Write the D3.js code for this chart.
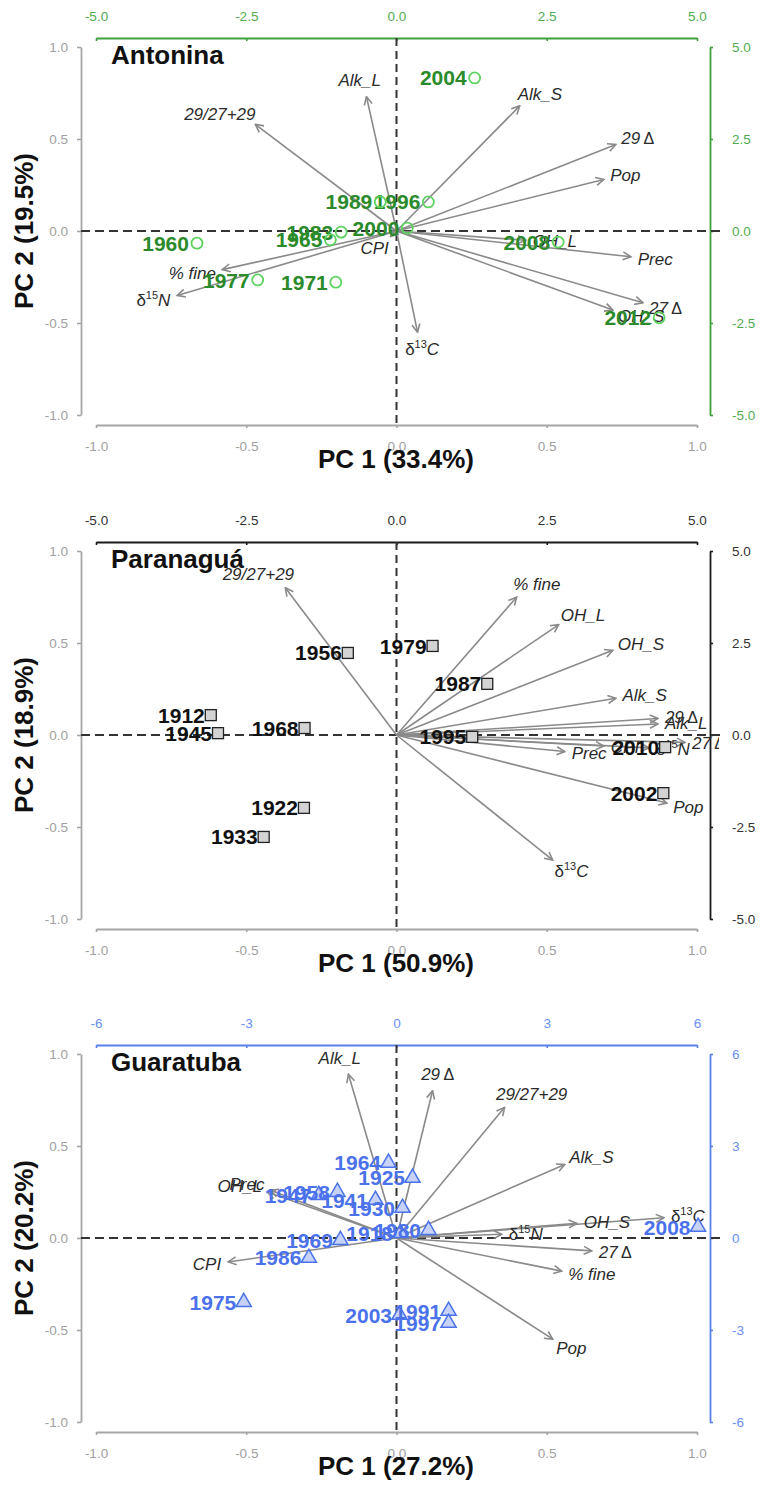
<!DOCTYPE html>
<html>
<head>
<meta charset="utf-8">
<script src="https://cdn.jsdelivr.net/npm/d3@7"></script>
<style>
  body { margin: 0; background: #fff; }
  svg text { font-family: "Liberation Sans", Arial, Helvetica, sans-serif; }
</style>
</head>
<body>
<div id="chart"></div>
<script>
// ---- Antonina ----
const antYears = ["2004", "1996", "1989", "2000", "1983", "1965", "1960", "1977", "1971", "2008", "2012"];
const antScore1 = [1.30, 0.53, -0.27, 0.18, -0.92, -1.10, -3.32, -2.31, -1.01, 2.69, 4.37];
const antScore2 = [4.16, 0.79, 0.79, 0.08, -0.03, -0.24, -0.33, -1.33, -1.39, -0.30, -2.36];
const antVars = ["Alk_L", "29/27+29", "Alk_S", "29Δ", "Pop", "OH_L", "Prec", "27Δ", "OH_S", "δ13C", "δ15N", "% fine", "CPI"];
const antLoad1 = [-0.10, -0.47, 0.41, 0.73, 0.69, 0.43, 0.78, 0.82, 0.72, 0.07, -0.73, -0.58, -0.02];
const antLoad2 = [0.73, 0.58, 0.68, 0.47, 0.28, -0.05, -0.14, -0.39, -0.43, -0.55, -0.35, -0.21, -0.03];

// ---- Paranaguá ----
const parYears = ["1956", "1979", "1987", "1912", "1945", "1968", "1995", "2010", "2002", "1922", "1933"];
const parScore1 = [-0.81, 0.60, 1.51, -3.09, -2.97, -1.53, 1.26, 4.47, 4.44, -1.54, -2.21];
const parScore2 = [2.23, 2.42, 1.39, 0.54, 0.05, 0.19, -0.05, -0.33, -1.58, -1.98, -2.77];
const parVars = ["29/27+29", "% fine", "OH_L", "OH_S", "Alk_S", "29Δ", "Alk_L", "Prec", "CPI", "δ15N", "27Δ", "Pop", "δ13C"];
const parLoad1 = [-0.37, 0.40, 0.54, 0.72, 0.73, 0.87, 0.87, 0.56, 0.69, 0.84, 0.96, 0.90, 0.52];
const parLoad2 = [0.80, 0.75, 0.60, 0.46, 0.20, 0.09, 0.06, -0.09, -0.06, -0.07, -0.04, -0.37, -0.68];

// ---- Guaratuba ----
const guaYears = ["1964", "1925", "1947", "1958", "1941", "1930", "1918", "1980", "1969", "1986", "1975", "2003", "1991", "1997", "2008"];
const guaScore1 = [-0.16, 0.32, -1.55, -1.18, -0.42, 0.12, 0.08, 0.64, -1.12, -1.75, -3.05, 0.06, 1.04, 1.04, 6.02];
const guaScore2 = [2.45, 1.96, 1.40, 1.50, 1.24, 0.98, 0.16, 0.26, -0.07, -0.65, -2.09, -2.51, -2.38, -2.77, 0.36];
const guaVars = ["Alk_L", "29Δ", "29/27+29", "Alk_S", "OH_S", "δ13C", "δ15N", "27Δ", "% fine", "Pop", "CPI", "Prec", "OH_L"];
const guaLoad1 = [-0.16, 0.12, 0.36, 0.56, 0.60, 0.89, 0.35, 0.65, 0.55, 0.52, -0.56, -0.42, -0.43];
const guaLoad2 = [0.89, 0.80, 0.71, 0.40, 0.08, 0.11, 0.02, -0.07, -0.18, -0.55, -0.13, 0.26, 0.25];

// ---- axis ticks ----
const pcTicks = [-1, -0.5, 0, 0.5, 1];
const scoreTicks5 = [-5, -2.5, 0, 2.5, 5];
const scoreTicks6 = [-6, -3, 0, 3, 6];

const width = 760, height = 1489;
const svg = d3.select("#chart").append("svg")
    .attr("width", width)
    .attr("height", height);

const defs = svg.append("defs");
defs.append("marker")
    .attr("id", "head")
    .attr("viewBox", "0 0 10 10")
    .attr("refX", 9).attr("refY", 5)
    .attr("markerWidth", 10).attr("markerHeight", 10)
    .attr("markerUnits", "userSpaceOnUse")
    .attr("orient", "auto")
  .append("path")
    .attr("d", "M1,1 L9,5 L1,9")
    .attr("fill", "none")
    .attr("stroke", "#8a8a8a")
    .attr("stroke-width", 1.6);
defs.append("clipPath").attr("id", "clipR")
  .append("rect").attr("x", 0).attr("y", 0).attr("width", 719).attr("height", height);

const panels = [
  { name: "Antonina", y0: 231, pc1: "PC 1 (33.4%)", pc2: "PC 2 (19.5%)",
    years: antYears, s1: antScore1, s2: antScore2, vars: antVars, l1: antLoad1, l2: antLoad2,
    max: 5, ticks: scoreTicks5, fmt: d => d.toFixed(1),
    axisCol: "#3f9f3f", tickCol: "#52ab52", yearCol: "#2b8b2b", shape: "circle" },
  { name: "Paranaguá", y0: 735, pc1: "PC 1 (50.9%)", pc2: "PC 2 (18.9%)",
    years: parYears, s1: parScore1, s2: parScore2, vars: parVars, l1: parLoad1, l2: parLoad2,
    max: 5, ticks: scoreTicks5, fmt: d => d.toFixed(1),
    axisCol: "#1a1a1a", tickCol: "#333", yearCol: "#111", shape: "square" },
  { name: "Guaratuba", y0: 1238, pc1: "PC 1 (27.2%)", pc2: "PC 2 (20.2%)",
    years: guaYears, s1: guaScore1, s2: guaScore2, vars: guaVars, l1: guaLoad1, l2: guaLoad2,
    max: 6, ticks: scoreTicks6, fmt: d => String(d),
    axisCol: "#5a80ea", tickCol: "#6a8ff0", yearCol: "#4b72ea", shape: "triangle" }
];

function styleAxis(sel, lineCol, textCol) {
  sel.select(".domain").attr("stroke", lineCol).attr("stroke-width", 1.8);
  sel.selectAll(".tick line").attr("stroke", lineCol).attr("stroke-width", 1.6);
  sel.selectAll(".tick text").attr("fill", textCol).attr("font-size", 13.5)
     .attr("font-family", "Liberation Sans, Arial, sans-serif");
}

// write a variable label, with the delta signs upright and isotopes superscripted
function writeLabel(t, name) {
  let m = name.match(/^δ(\d+)(\w)$/);
  if (m) {
    t.append("tspan").attr("font-style", "normal").text("δ");
    t.append("tspan").attr("font-style", "normal").attr("font-size", 11).attr("dy", -7).text(m[1]);
    t.append("tspan").attr("dy", 7).text(m[2]);
    return;
  }
  m = name.match(/^(\d+)Δ$/);
  if (m) {
    t.append("tspan").text(m[1] + "\u2009");
    t.append("tspan").attr("font-style", "normal").attr("font-size", 16).text("Δ");
    return;
  }
  t.text(name);
}

function drawPanel(p) {
  const g = svg.append("g");
  const x = d3.scaleLinear().domain([-1, 1]).range([96, 697]);
  const y = d3.scaleLinear().domain([-1, 1]).range([p.y0 + 184, p.y0 - 184]);
  const x2 = d3.scaleLinear().domain([-p.max, p.max]).range([96, 697]);
  const y2 = d3.scaleLinear().domain([-p.max, p.max]).range([p.y0 + 184, p.y0 - 184]);

  // axes
  g.append("g").attr("transform", "translate(81,0)")
    .call(d3.axisLeft(y).tickValues(pcTicks).tickFormat(d => d.toFixed(1)).tickSize(4).tickSizeOuter(0).tickPadding(9))
    .call(s => styleAxis(s, "#a6a6a6", "#a0a0a0"));
  g.append("g").attr("transform", `translate(0,${p.y0 + 194})`)
    .call(d3.axisBottom(x).tickValues(pcTicks).tickFormat(d => d.toFixed(1)).tickSize(3).tickSizeOuter(0).tickPadding(13))
    .call(s => styleAxis(s, "#a6a6a6", "#a0a0a0"));
  g.append("g").attr("transform", `translate(0,${p.y0 - 193})`)
    .call(d3.axisTop(x2).tickValues(p.ticks).tickFormat(p.fmt).tickSize(-3).tickSizeOuter(0).tickPadding(17))
    .call(s => styleAxis(s, p.axisCol, p.tickCol));
  g.append("g").attr("transform", "translate(710,0)")
    .call(d3.axisRight(y2).tickValues(p.ticks).tickFormat(p.fmt).tickSize(3).tickSizeOuter(0).tickPadding(19))
    .call(s => styleAxis(s, p.axisCol, p.tickCol));

  // zero lines
  g.append("line")
    .attr("x1", 81).attr("x2", 722).attr("y1", y(0)).attr("y2", y(0))
    .attr("stroke", "#333").attr("stroke-width", 2).attr("stroke-dasharray", "9,5");
  g.append("line")
    .attr("x1", x(0)).attr("x2", x(0)).attr("y1", p.y0 - 193).attr("y2", p.y0 + 194)
    .attr("stroke", "#333").attr("stroke-width", 2).attr("stroke-dasharray", "8,5");

  // loadings
  const idx = d3.range(p.vars.length);
  g.selectAll(".arrow").data(idx).enter().append("line")
    .attr("x1", x(0)).attr("y1", y(0))
    .attr("x2", i => x(p.l1[i])).attr("y2", i => y(p.l2[i]))
    .attr("stroke", "#8a8a8a").attr("stroke-width", 1.6)
    .attr("marker-end", "url(#head)");

  const lg = g.append("g").attr("clip-path", "url(#clipR)");
  idx.forEach(i => {
    const tx = x(p.l1[i]), ty = y(p.l2[i]);
    const dx = tx - x(0), dy = ty - y(0);
    const len = Math.sqrt(dx * dx + dy * dy);
    const ux = dx / len, uy = dy / len;
    const px = tx + ux * 7, py = ty + uy * 7;
    const t = lg.append("text")
      .attr("font-size", 17).attr("font-style", "italic").attr("fill", "#2a2a2a");
    writeLabel(t, p.vars[i]);
    const w = t.node().getBBox().width;
    const f = (1 - ux) / 2;
    t.attr("x", px - f * w).attr("y", py + (0.35 + 0.6 * uy) * 17);
  });

  // scores
  const pts = g.selectAll(".pt").data(d3.range(p.years.length)).enter().append("g")
    .attr("transform", i => `translate(${x2(p.s1[i])},${y2(p.s2[i])})`);
  let off;
  if (p.shape === "circle") {
    pts.append("circle").attr("r", 5.5)
      .attr("fill", "none").attr("stroke", "#5fd35f").attr("stroke-width", 1.8);
    off = 8;
  } else if (p.shape === "square") {
    pts.append("rect").attr("x", -5.5).attr("y", -5.5).attr("width", 11).attr("height", 11)
      .attr("fill", "#d3d3d3").attr("stroke", "#222").attr("stroke-width", 1.3);
    off = 6;
  } else {
    pts.append("path").attr("d", d3.symbol(d3.symbolTriangle, 100)())
      .attr("fill", "#c6d2f6").attr("stroke", "#4b72ea").attr("stroke-width", 1.5);
    off = 7.5;
  }
  pts.append("text")
    .attr("x", -off).attr("dy", "0.36em")
    .attr("text-anchor", "end")
    .attr("font-size", 21).attr("font-weight", "bold")
    .attr("fill", p.yearCol)
    .text(i => p.years[i]);

  // titles
  g.append("text").attr("x", 111).attr("y", p.y0 - 167)
    .attr("font-size", 26).attr("font-weight", "bold").attr("fill", "#111")
    .text(p.name);
  g.append("text").attr("x", 396).attr("y", p.y0 + 237)
    .attr("text-anchor", "middle")
    .attr("font-size", 26).attr("font-weight", "bold").attr("fill", "#111")
    .text(p.pc1);
  g.append("text")
    .attr("transform", `translate(33,${p.y0}) rotate(-90)`)
    .attr("text-anchor", "middle")
    .attr("font-size", 26).attr("font-weight", "bold").attr("fill", "#111")
    .text(p.pc2);
}

panels.forEach(drawPanel);
</script>
</body>
</html>
